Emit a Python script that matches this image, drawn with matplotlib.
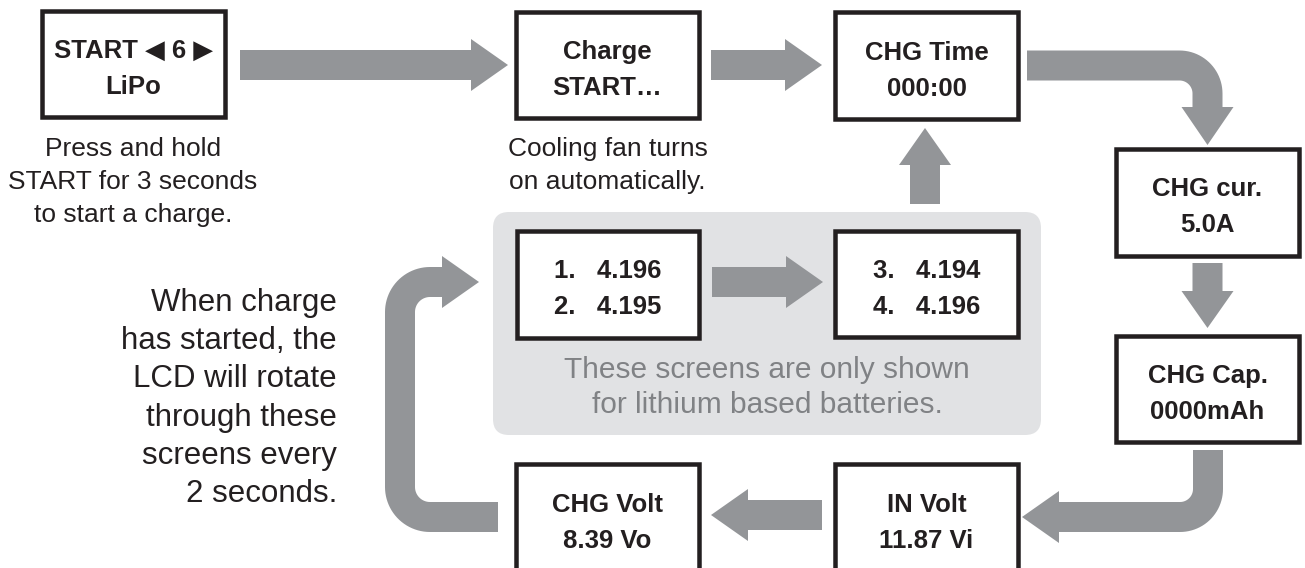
import numpy as np
import matplotlib
matplotlib.use("Agg")
import matplotlib.pyplot as plt
from matplotlib.patches import Rectangle, Polygon, FancyBboxPatch

# ---------------- content ----------------
box_names = ["start", "charge", "time", "cur", "cap", "involt", "chgvolt", "cells12", "cells34"]
box_line1 = ["START \u25C0 6 \u25B6", "Charge", "CHG Time", "CHG cur.", "CHG Cap.",
             "IN Volt", "CHG Volt", "1.   4.196", "3.   4.194"]
box_line2 = ["LiPo", "START\u2026", "000:00", "5.0A", "0000mAh",
             "11.87 Vi", "8.39 Vo", "2.   4.195", "4.   4.196"]

caption_start = ["Press and hold", "START for 3 seconds", "to start a charge."]
caption_charge = ["Cooling fan turns", "on automatically."]
caption_left = ["When charge", "has started, the", "LCD will rotate",
                "through these", "screens every", "2 seconds."]
caption_gray = ["These screens are only shown", "for lithium based batteries."]

# ---------------- layout (pixels, y down) ----------------
W, H = 1305, 568
box_cx = [133.5, 607.5, 926.5, 1207.5, 1207.5, 926.5, 607.5, 608.0, 926.5]
box_cy = [64.0, 65.0, 65.5, 202.5, 389.0, 517.5, 517.5, 284.5, 284.0]
BOX_W, BOX_H = 187, 111
BOX_LW_PX = 4.5

ARROW_C = "#939598"
GRAY_BG = "#e1e2e4"
TXT = "#231f20"
GRAY_TXT = "#808285"
SHAFT = 30.0
HEAD_W = 52.0
HEAD_L = 37.0

fig = plt.figure(figsize=(W / 100, H / 100), dpi=100)
ax = fig.add_axes([0, 0, 1, 1])
ax.set_xlim(0, W)
ax.set_ylim(H, 0)
ax.set_aspect("equal")
ax.axis("off")

PT = 72 / 100.0  # points per pixel

FONT = ["Liberation Sans", "DejaVu Sans"]


def rounded_centerline(points, r, n=24):
    pts = [np.array(p, float) for p in points]
    out = [pts[0]]
    for i in range(1, len(pts) - 1):
        p0, p1, p2 = pts[i - 1], pts[i], pts[i + 1]
        d1 = (p1 - p0) / np.linalg.norm(p1 - p0)
        d2 = (p2 - p1) / np.linalg.norm(p2 - p1)
        a = p1 - d1 * r
        b = p1 + d2 * r
        c = a + (b - p1)  # centre of arc
        va = a - c
        vb = b - c
        ang_a = np.arctan2(va[1], va[0])
        ang_b = np.arctan2(vb[1], vb[0])
        da = (ang_b - ang_a + np.pi) % (2 * np.pi) - np.pi
        for t in np.linspace(0, 1, n):
            ang = ang_a + da * t
            out.append(c + r * np.array([np.cos(ang), np.sin(ang)]))
    out.append(pts[-1])
    return np.array(out)


def arrow_polygon(points, tip, r=27):
    cl = rounded_centerline(points, r) if len(points) > 2 else np.array(points, float)
    m = len(cl)
    normals = []
    for i in range(m):
        if i == 0:
            t = cl[1] - cl[0]
        elif i == m - 1:
            t = cl[-1] - cl[-2]
        else:
            t = cl[i + 1] - cl[i - 1]
        t = t / np.linalg.norm(t)
        normals.append(np.array([-t[1], t[0]]))
    normals = np.array(normals)
    left = cl + normals * SHAFT / 2
    right = cl - normals * SHAFT / 2
    base = cl[-1]
    nb = normals[-1]
    tip = np.array(tip, float)
    head = [base + nb * HEAD_W / 2, tip, base - nb * HEAD_W / 2]
    return np.vstack([left, head, right[::-1]])


def draw_arrow(points, tip, r=27):
    poly = arrow_polygon(points, tip, r)
    ax.add_patch(Polygon(poly, closed=True, facecolor=ARROW_C, edgecolor="none", zorder=2))


def straight(x0, y0, x1, y1):
    d = np.array([x1 - x0, y1 - y0], float)
    d /= np.linalg.norm(d)
    base = (x1 - d[0] * HEAD_L, y1 - d[1] * HEAD_L)
    draw_arrow([(x0, y0), base], (x1, y1))


# gray background panel
ax.add_patch(FancyBboxPatch((493, 212), 548, 223,
                            boxstyle="round,pad=0,rounding_size=16",
                            facecolor=GRAY_BG, edgecolor="none", zorder=0))

# boxes
for cx, cy, l1, l2 in zip(box_cx, box_cy, box_line1, box_line2):
    ax.add_patch(Rectangle((cx - BOX_W / 2 + BOX_LW_PX / 2, cy - BOX_H / 2 + BOX_LW_PX / 2),
                           BOX_W - BOX_LW_PX, BOX_H - BOX_LW_PX,
                           facecolor="white", edgecolor=TXT,
                           linewidth=BOX_LW_PX * PT, zorder=3))
    ax.text(cx, cy - 6, l1, ha="center", va="baseline", fontsize=18.5,
            fontweight="bold", color=TXT, family=FONT, zorder=4)
    ax.text(cx, cy + 30, l2, ha="center", va="baseline", fontsize=18.5,
            fontweight="bold", color=TXT, family=FONT, zorder=4)

# straight arrows
straight(240, 65, 508, 65)        # START -> Charge
straight(711, 65, 822, 65)        # Charge -> CHG Time
straight(712, 282, 823, 282)      # 1/2 -> 3/4
straight(925, 204, 925, 128)      # up to CHG Time
straight(1207.5, 263, 1207.5, 328)  # cur -> cap
straight(822, 515, 711, 515)      # IN Volt -> CHG Volt

# curved arrows
draw_arrow([(1027, 65.5), (1207.5, 65.5), (1207.5, 107)], (1207.5, 145), r=28)
draw_arrow([(1208, 450), (1208, 517), (1059, 517)], (1022, 517), r=28)
draw_arrow([(498, 517), (400, 517), (400, 282), (442, 282)], (479, 282), r=30)

# captions
for i, s in enumerate(caption_start):
    ax.text(133, 156 + i * 33.0, s, ha="center", va="baseline", fontsize=19,
            color=TXT, family=FONT)
for i, s in enumerate(caption_charge):
    ax.text(607.5, 156 + i * 33.0, s, ha="center", va="baseline", fontsize=19,
            color=TXT, family=FONT)
for i, s in enumerate(caption_left):
    ax.text(337, 311 + i * 38.2, s, ha="right", va="baseline", fontsize=22.5,
            color=TXT, family=FONT)
for i, s in enumerate(caption_gray):
    ax.text(767, 378 + i * 35, s, ha="center", va="baseline", fontsize=21.5,
            color=GRAY_TXT, family=FONT, zorder=4)

fig.savefig("out.png", dpi=100, facecolor="white")
